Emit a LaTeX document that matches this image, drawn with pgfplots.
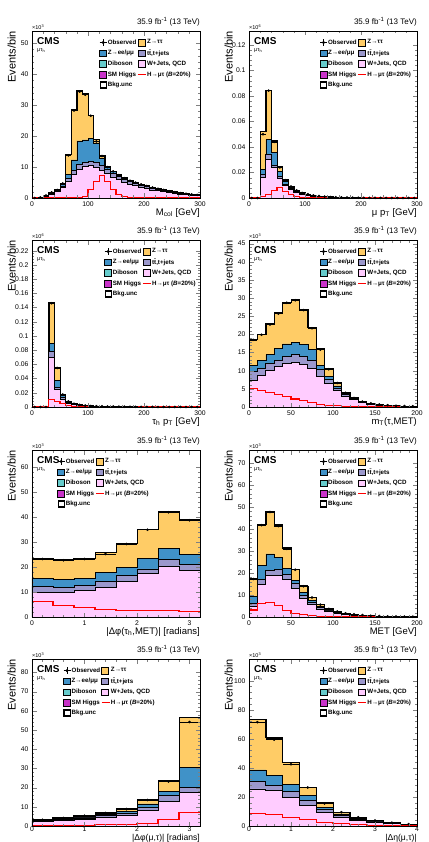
\documentclass[border=0pt]{standalone}
\usepackage{fontspec}
\setmainfont{Liberation Sans}
\usepackage{pgfplots}
\usepackage{pgfplotstable}
\pgfplotsset{compat=1.18}

\definecolor{cZtt}{RGB}{255,204,102}
\definecolor{cZll}{RGB}{64,146,200}
\definecolor{cTT}{RGB}{155,152,204}
\definecolor{cDib}{RGB}{102,204,204}
\definecolor{cW}{RGB}{255,204,255}
\definecolor{cH}{RGB}{200,50,200}
\definecolor{cSig}{RGB}{255,0,0}

% columns: x = bin low edge, c = bin centre, p = W+jets/QCD top, t = ttbar top,
% z = Z->ee/mumu top, o = total (Z->tautau top), s = signal, d = observed
\pgfplotstableread{
x c p t z o s d
0 5 0 0 0 0 0 0
10 15 0.1 0.1 0.15 0.2 0 0.2
20 25 0.5 0.6 0.7 0.8 0 0.8
30 35 1.2 1.4 1.5 1.7 0 1.8
40 45 2.0 2.3 2.5 2.8 0 2.6
50 55 3.4 3.9 4.3 4.8 0 4.7
60 65 5.3 6.3 7.6 14.0 0 13.8
70 75 7.5 9.0 12.3 28.5 0 28.3
80 85 9.3 10.8 18.5 34.6 0.1 34.4
90 95 10.2 11.6 18.8 33.7 0.4 33.4
100 105 10.4 11.8 19.2 26.6 2.7 26.6
110 115 10.0 11.4 17.8 19.0 5.4 18.3
120 125 9.0 10.5 12.8 13.8 7.3 13.6
130 135 7.8 9.2 9.9 10.3 5.4 10.0
140 145 6.8 8.0 8.5 8.7 2.7 8.6
150 155 5.9 7.0 7.3 7.5 1.1 7.4
160 165 5.1 6.1 6.4 6.5 0.4 6.4
170 175 4.5 5.4 5.6 5.7 0.1 5.6
180 185 4.0 4.8 5.0 5.1 0 5.0
190 195 3.5 4.2 4.4 4.5 0 4.4
200 205 3.0 3.7 3.9 4.0 0 3.9
210 215 2.6 3.2 3.4 3.5 0 3.4
220 225 2.3 2.8 2.9 3.0 0 3.0
230 235 2.0 2.4 2.5 2.6 0 2.6
240 245 1.7 2.1 2.2 2.3 0 2.2
250 255 1.5 1.8 1.9 2.0 0 1.9
260 265 1.3 1.5 1.6 1.7 0 1.6
270 275 1.1 1.3 1.4 1.4 0 1.4
280 285 0.9 1.1 1.2 1.2 0 1.2
290 295 0.8 0.9 1.0 1.0 0 1.0
300 nan 0.8 0.9 1.0 1.0 0 nan
}\tA

\pgfplotstableread{
x c p t z o s d
0 5 0 0 0 0 0 0
10 15 0 0 0 0 0 0
20 25 0.0158 0.0185 0.0224 0.052 0.0013 0.050
30 35 0.030 0.034 0.046 0.0844 0.003 0.0842
40 45 0.0237 0.026 0.0356 0.0449 0.006 0.044
50 55 0.0153 0.017 0.021 0.0245 0.008 0.024
60 65 0.0095 0.011 0.013 0.0145 0.0053 0.014
70 75 0.0065 0.0075 0.0085 0.0092 0.0026 0.009
80 85 0.0043 0.005 0.0056 0.006 0.001 0.006
90 95 0.003 0.0035 0.0038 0.0042 0.0004 0.004
100 105 0.0021 0.0025 0.0027 0.0029 0.0002 0.003
110 115 0.0015 0.0018 0.0019 0.0021 0.0001 0.0021
120 125 0.0011 0.0013 0.0014 0.0015 0 0.0015
130 135 0.0008 0.0009 0.001 0.0011 0 0.0011
140 145 0.0006 0.0007 0.00075 0.0008 0 0.0008
150 155 0.00045 0.0005 0.00055 0.0006 0 0.0006
160 165 0.00035 0.0004 0.0004 0.00045 0 0.00045
170 175 0.00025 0.0003 0.0003 0.00035 0 0.00035
180 185 0.0002 0.00022 0.00024 0.00026 0 0.00026
190 195 0.00015 0.00017 0.00018 0.0002 0 0.0002
200 205 0.00012 0.00013 0.00014 0.00015 0 0.00015
210 215 0.0001 0.00011 0.00011 0.00012 0 0.00012
220 225 0.00008 0.00009 0.00009 0.0001 0 0.0001
230 235 0.00006 0.00007 0.00007 0.00008 0 0.00008
240 245 0.00005 0.00006 0.00006 0.00007 0 0.00007
250 255 0.00004 0.00005 0.00005 0.00006 0 0.00006
260 265 0.00003 0.00004 0.00004 0.00005 0 0.00005
270 275 0.00003 0.00003 0.00004 0.00004 0 0.00004
280 285 0.00002 0.00003 0.00003 0.00003 0 0.00003
290 295 0.00002 0.00002 0.00003 0.00003 0 0.00003
300 nan 0.00002 0.00002 0.00003 0.00003 0 nan
}\tB

\pgfplotstableread{
x c p t z o s d
0 5 0 0 0 0 0 0
10 15 0 0 0 0 0 0
20 25 0 0 0 0 0 0
30 35 0.070 0.078 0.090 0.147 0.0103 0.146
40 45 0.024 0.028 0.037 0.0557 0.008 0.055
50 55 0.011 0.013 0.016 0.018 0.0045 0.0175
60 65 0.005 0.006 0.0072 0.008 0.0015 0.008
70 75 0.003 0.0036 0.0042 0.0047 0.0006 0.0047
80 85 0.002 0.0024 0.0028 0.003 0.0002 0.003
90 95 0.0014 0.0016 0.0019 0.0021 0.0001 0.002
100 105 0.001 0.0012 0.0013 0.0015 0 0.0015
110 115 0.0008 0.0009 0.001 0.0011 0 0.0011
120 125 0.0006 0.0007 0.0008 0.0009 0 0.0009
130 135 0.0005 0.0006 0.0006 0.0007 0 0.0007
140 145 0.0004 0.0005 0.0005 0.0006 0 0.0006
150 155 0.0003 0.0004 0.0004 0.0005 0 0.0005
160 165 0.0003 0.0003 0.0003 0.0004 0 0.0004
170 175 0.0002 0.0002 0.0003 0.0003 0 0.0003
180 185 0.0002 0.0002 0.0002 0.0003 0 0.0003
190 195 0.0001 0.0002 0.0002 0.0002 0 0.0002
200 205 0.0001 0.0001 0.0002 0.0002 0 0.0002
210 215 0.0001 0.0001 0.0001 0.0002 0 0.0002
220 225 0.0001 0.0001 0.0001 0.0001 0 0.0001
230 235 0.0001 0.0001 0.0001 0.0001 0 0.0001
240 245 0.0001 0.0001 0.0001 0.0001 0 0.0001
250 255 0.0001 0.0001 0.0001 0.0001 0 0.0001
260 265 0.0001 0.0001 0.0001 0.0001 0 0.0001
270 275 0.0001 0.0001 0.0001 0.0001 0 0.0001
280 285 0.0001 0.0001 0.0001 0.0001 0 0.0001
290 295 0.0001 0.0001 0.0001 0.0001 0 0.0001
300 nan 0.0001 0.0001 0.0001 0.0001 0 nan
}\tC

\pgfplotstableread{
x c p t z o s d
0 5 7.3 9.7 11.5 18.6 5.2 18.5
10 15 8.7 10.6 12.9 20.1 4.5 19.9
20 25 10.1 12.0 14.4 22.9 4.0 22.7
30 35 11.1 12.9 16.2 25.9 3.4 25.7
40 45 12.0 13.9 17.4 28.9 2.8 28.7
50 55 12.3 14.4 17.8 29.6 2.2 29.4
60 65 11.7 13.9 17.2 26.9 1.7 26.7
70 75 10.6 12.9 15.8 21.9 1.2 21.7
80 85 8.5 10.3 11.5 16.0 0.8 15.8
90 95 6.4 7.6 8.5 10.6 0.5 10.4
100 105 4.5 5.2 5.8 6.8 0.3 6.6
110 115 2.9 3.4 3.6 4.0 0.2 3.9
120 125 2.0 2.3 2.4 2.6 0.1 2.5
130 135 1.2 1.4 1.5 1.6 0.05 1.5
140 145 0.8 0.95 1.0 1.05 0 1.0
150 155 0.55 0.65 0.68 0.7 0 0.7
160 165 0.4 0.47 0.5 0.52 0 0.5
170 175 0.3 0.35 0.37 0.38 0 0.37
180 185 0.2 0.25 0.26 0.27 0 0.27
190 195 0.15 0.18 0.19 0.2 0 0.2
200 nan 0.15 0.18 0.19 0.2 0 nan
}\tD

\pgfplotstableread{
x c p t z o s d
0 0.2 9.7 12.4 15.5 23.6 6.2 23.3
0.4 0.6 10.0 12.0 15.0 23.0 4.6 22.8
0.8 1.0 10.6 12.6 15.5 23.6 3.7 23.3
1.2 1.4 12.0 14.3 17.9 25.9 3.1 25.3
1.6 1.8 14.2 16.6 19.9 29.6 2.7 29.3
2.0 2.2 17.3 19.3 23.6 35.2 2.7 35.0
2.4 2.6 20.3 23.0 27.6 42.5 2.7 42.0
2.8 3.0 18.6 21.0 25.2 39.2 2.3 38.8
3.2 nan 18.6 21.0 25.2 39.2 2.3 nan
}\tE

\pgfplotstableread{
x c p t z o s d
0 5 4.6 6.1 9.4 17.5 3.2 17.3
10 15 14.9 17.0 23.5 42.2 6.1 41.8
20 25 19.1 21.3 28.7 48.2 6.8 47.8
30 35 19.1 21.8 27.2 41.9 5.2 41.4
40 45 17.0 19.3 22.1 31.5 3.0 31.0
50 55 13.2 15.2 16.7 21.8 1.8 21.5
60 65 8.6 9.9 11.1 14.2 1.1 14.0
70 75 5.8 6.8 7.6 9.1 0.6 8.9
80 85 3.6 4.3 5.0 5.8 0.3 5.6
90 95 2.4 2.8 3.2 3.8 0.15 3.7
100 105 1.7 2.0 2.2 2.6 0.1 2.5
110 115 1.2 1.4 1.5 1.8 0 1.7
120 125 0.85 1.0 1.1 1.3 0 1.2
130 135 0.6 0.7 0.8 0.9 0 0.9
140 145 0.45 0.5 0.55 0.65 0 0.6
150 155 0.3 0.35 0.4 0.45 0 0.45
160 165 0.25 0.28 0.3 0.35 0 0.33
170 175 0.18 0.2 0.22 0.26 0 0.25
180 185 0.14 0.16 0.17 0.2 0 0.2
190 195 0.1 0.12 0.13 0.15 0 0.15
200 nan 0.1 0.12 0.13 0.15 0 nan
}\tF

\pgfplotstableread{
x c p t z o s d
0 0.2 2.2 2.7 3.0 3.3 0.3 3.2
0.4 0.6 2.7 3.3 3.8 4.3 0.4 4.2
0.8 1.0 3.4 4.2 4.8 5.5 0.5 5.3
1.2 1.4 4.3 5.3 6.0 6.9 0.6 6.8
1.6 1.8 5.5 6.8 7.8 9.0 0.8 8.8
2.0 2.2 8.1 9.8 11.5 13.8 1.2 13.6
2.4 2.6 12.9 15.8 17.9 23.6 3.3 23.2
2.8 3.0 17.6 20.1 30.5 56.5 7.2 54.2
3.2 nan 17.6 20.1 30.5 56.5 7.2 nan
}\tG

\pgfplotstableread{
x c p t z o s d
0 0.2 25.5 30.5 38.6 73.6 8.9 71.5
0.4 0.6 24.3 28.2 35.0 60.7 7.7 59.5
0.8 1.0 19.8 23.9 28.9 43.6 6.1 42.5
1.2 1.4 14.1 17.5 20.9 26.6 4.5 26.5
1.6 1.8 9.5 11.4 13.0 15.9 2.7 15.5
2.0 2.2 6.1 7.3 8.4 9.5 1.6 9.5
2.4 2.6 3.9 4.3 5.0 6.1 1.0 6.0
2.8 3.0 2.5 2.8 3.3 3.9 0.5 3.8
3.2 3.4 1.5 1.7 2.0 2.3 0.3 2.3
3.6 3.8 0.8 0.9 1.0 1.1 0.1 1.3
4.0 nan 0.8 0.9 1.0 1.1 0.1 nan
}\tH

\pgfplotsset{
  cms/.style={
    scale only axis, width=168pt, height=167pt, anchor=south west,
    ymin=0, axis on top, clip mode=individual,
    tick align=inside, major tick length=4.5pt, minor tick length=2.5pt,
    minor x tick num=4, minor y tick num=4,
    axis line style={line width=0.5pt},
    tick label style={font=\fontsize{6.8}{6.8}\selectfont},
    /pgf/number format/assume math mode=true,
    scaled ticks=false,
    ylabel={Events/bin},
    every axis y label/.style={at={([xshift=-16pt]rel axis cs:0,1)}, rotate=90, anchor=south east, inner sep=0pt, font=\fontsize{11}{11}\selectfont},
    every axis x label/.style={at={([yshift=-10pt]rel axis cs:1,0)}, anchor=north east, inner sep=0pt, font=\fontsize{9.5}{10}\selectfont},
    legend columns=2, legend cell align=left,
    legend style={draw=none, fill=none, anchor=north west, font=\fontsize{6.2}{6.5}\bfseries,
      row sep=2.9pt, inner sep=0pt, nodes={inner sep=0.8pt}},
  },
  bottomrow/.style={
    xticklabel style={inner sep=0.8pt},
    every axis x label/.style={at={([yshift=-8.2pt]rel axis cs:1,0)}, anchor=north east, inner sep=0pt, font=\fontsize{8.6}{9}\selectfont},
  }
}

\newcommand{\drawstack}[2]{%
  \addplot[const plot, fill=cZtt, draw=black, line width=0.5pt, forget plot] table[x=x,y=o]{#1} \closedcycle;
  \addplot[const plot, fill=cZll, draw=black, line width=0.5pt, forget plot] table[x=x,y=z]{#1} \closedcycle;
  \addplot[const plot, fill=cTT, draw=black, line width=0.7pt, forget plot] table[x=x,y=t]{#1} \closedcycle;
  \addplot[const plot, fill=cW, draw=black, line width=0.9pt, forget plot] table[x=x,y=p]{#1} \closedcycle;
  \addplot[const plot, draw=black, line width=1pt, forget plot] table[x=x,y=o]{#1};
  \addplot[const plot, draw=cSig, line width=1.1pt, forget plot] table[x=x,y=s]{#1};
  \addplot[only marks, mark=*, mark size=1.1pt, black, forget plot,
    error bars/.cd, x dir=both, x fixed=#2, error mark=none, error bar style={line width=0.6pt}]
    table[x=c,y=d]{#1};
}

\newcommand{\cmslegend}{%
  \addlegendimage{legend image code/.code={\draw[black, line width=0.6pt] (0pt,0pt)--(7pt,0pt) (3.5pt,-3.2pt)--(3.5pt,3.2pt); \fill[black] (3.5pt,0pt) circle (1.3pt);}}
  \addlegendentry{Observed}
  \addlegendimage{legend image code/.code={\draw[black, fill=cZtt, line width=0.5pt] (0pt,-3.3pt) rectangle (7pt,3.3pt);}}
  \addlegendentry{Z→ττ}
  \addlegendimage{legend image code/.code={\draw[black, fill=cZll, line width=0.5pt] (0pt,-3.3pt) rectangle (7pt,3.3pt);}}
  \addlegendentry{Z→ee/μμ}
  \addlegendimage{legend image code/.code={\draw[black, fill=cTT, line width=0.5pt] (0pt,-3.3pt) rectangle (7pt,3.3pt);}}
  \addlegendentry{t\=t,t+jets}
  \addlegendimage{legend image code/.code={\draw[black, fill=cDib, line width=0.5pt] (0pt,-3.3pt) rectangle (7pt,3.3pt);}}
  \addlegendentry{Diboson}
  \addlegendimage{legend image code/.code={\draw[black, fill=cW, line width=0.5pt] (0pt,-3.3pt) rectangle (7pt,3.3pt);}}
  \addlegendentry{W+Jets, QCD}
  \addlegendimage{legend image code/.code={\draw[black, fill=cH, line width=0.5pt] (0pt,-3.3pt) rectangle (7pt,3.3pt);}}
  \addlegendentry{SM Higgs}
  \addlegendimage{legend image code/.code={\draw[cSig, line width=1.1pt] (0pt,0pt)--(8pt,0pt);}}
  \addlegendentry{H→μτ (\textit{B}=20\%)}
  \addlegendimage{legend image code/.code={\draw[black, fill=white, line width=1.1pt] (0.4pt,-3pt) rectangle (6.6pt,3pt);}}
  \addlegendentry{Bkg.unc}
}

\newcommand{\cmstext}[1]{%
  \node[anchor=south east, inner sep=0pt, font=\fontsize{8}{8}\selectfont] at ([yshift=5pt]rel axis cs:1,1) {35.9 fb\textsuperscript{-1} (13 TeV)};
  \node[anchor=south west, inner sep=0pt, font=\fontsize{5.5}{5.5}\selectfont] at ([yshift=0.8pt]rel axis cs:0,1) {×10\textsuperscript{#1}};
  \node[anchor=north west, inner sep=0pt, font=\fontsize{10}{10}\bfseries] at ([xshift=5pt,yshift=-6.5pt]rel axis cs:0,1) {CMS};
  \node[anchor=north west, inner sep=0pt, font=\fontsize{5.5}{5.5}\selectfont] at ([xshift=5pt,yshift=-17.5pt]rel axis cs:0,1) {μτ\textsubscript{h}};
}

\begin{document}
\begin{tikzpicture}
\path[use as bounding box] (0pt,0pt) rectangle (428pt,-842pt);

% Panel 1: M_col
\begin{axis}[cms, at={(32pt,-198pt)}, xmin=0, xmax=300, ymax=54,
  xtick={0,100,200,300}, ytick={0,10,20,30,40,50},
  xlabel={M\textsubscript{col} [GeV]},
  legend style={at={(0.40,0.955)}}]
  \drawstack{\tA}{5}
  \cmslegend
  \cmstext{3}
\end{axis}

% Panel 2: mu pT
\begin{axis}[cms, at={(249pt,-198pt)}, xmin=0, xmax=300, ymax=0.131,
  xtick={0,100,200,300}, ytick={0,0.02,0.04,0.06,0.08,0.1,0.12},
  yticklabel style={/pgf/number format/fixed, /pgf/number format/precision=2},
  xlabel={μ p\textsubscript{T} [GeV]},
  legend style={at={(0.42,0.955)}}]
  \drawstack{\tB}{5}
  \cmslegend
  \cmstext{6}
\end{axis}

% Panel 3: tau_h pT
\begin{axis}[cms, at={(32pt,-407pt)}, xmin=0, xmax=300, ymax=0.235,
  xtick={0,100,200,300}, ytick={0,0.02,0.04,0.06,0.08,0.1,0.12,0.14,0.16,0.18,0.2,0.22},
  yticklabel style={/pgf/number format/fixed, /pgf/number format/precision=2},
  xlabel={τ\textsubscript{h} p\textsubscript{T} [GeV]},
  legend style={at={(0.43,0.955)}}]
  \drawstack{\tC}{5}
  \cmslegend
  \cmstext{6}
\end{axis}

% Panel 4: mT
\begin{axis}[cms, at={(249pt,-407pt)}, xmin=0, xmax=200, ymax=46,
  xtick={0,50,100,150,200}, ytick={0,5,10,15,20,25,30,35,40,45},
  xlabel={m\textsubscript{T}(τ,MET)},
  legend style={at={(0.42,0.955)}}]
  \drawstack{\tD}{5}
  \cmslegend
  \cmstext{3}
\end{axis}

% Panel 5: dphi(tau,MET)
\begin{axis}[cms, at={(32pt,-617pt)}, xmin=0, xmax=3.2, ymax=67,
  xtick={0,1,2,3}, ytick={0,10,20,30,40,50,60},
  xlabel={|Δφ(τ\textsubscript{h},MET)| [radians]},
  legend style={at={(0.15,0.955)}}]
  \drawstack{\tE}{0.2}
  \cmslegend
  \cmstext{3}
\end{axis}

% Panel 6: MET
\begin{axis}[cms, at={(249pt,-617pt)}, xmin=0, xmax=200, ymax=76,
  xtick={0,50,100,150,200}, ytick={0,10,20,30,40,50,60,70},
  xlabel={MET [GeV]},
  legend style={at={(0.42,0.955)}}]
  \drawstack{\tF}{5}
  \cmslegend
  \cmstext{3}
\end{axis}

% Panel 7: dphi(mu,tau)
\begin{axis}[cms, bottomrow, at={(32pt,-826pt)}, xmin=0, xmax=3.2, ymax=87,
  xtick={0,1,2,3}, ytick={0,10,20,30,40,50,60,70,80},
  xlabel={|Δφ(μ,τ)| [radians]},
  legend style={at={(0.185,0.955)}}]
  \drawstack{\tG}{0.2}
  \cmslegend
  \cmstext{3}
\end{axis}

% Panel 8: deta(mu,tau)
\begin{axis}[cms, bottomrow, at={(249pt,-826pt)}, xmin=0, xmax=4, ymax=115,
  xtick={0,1,2,3,4}, ytick={0,20,40,60,80,100},
  xlabel={|Δη(μ,τ)|},
  legend style={at={(0.42,0.955)}}]
  \drawstack{\tH}{0.2}
  \cmslegend
  \cmstext{3}
\end{axis}
\end{tikzpicture}
\end{document}
